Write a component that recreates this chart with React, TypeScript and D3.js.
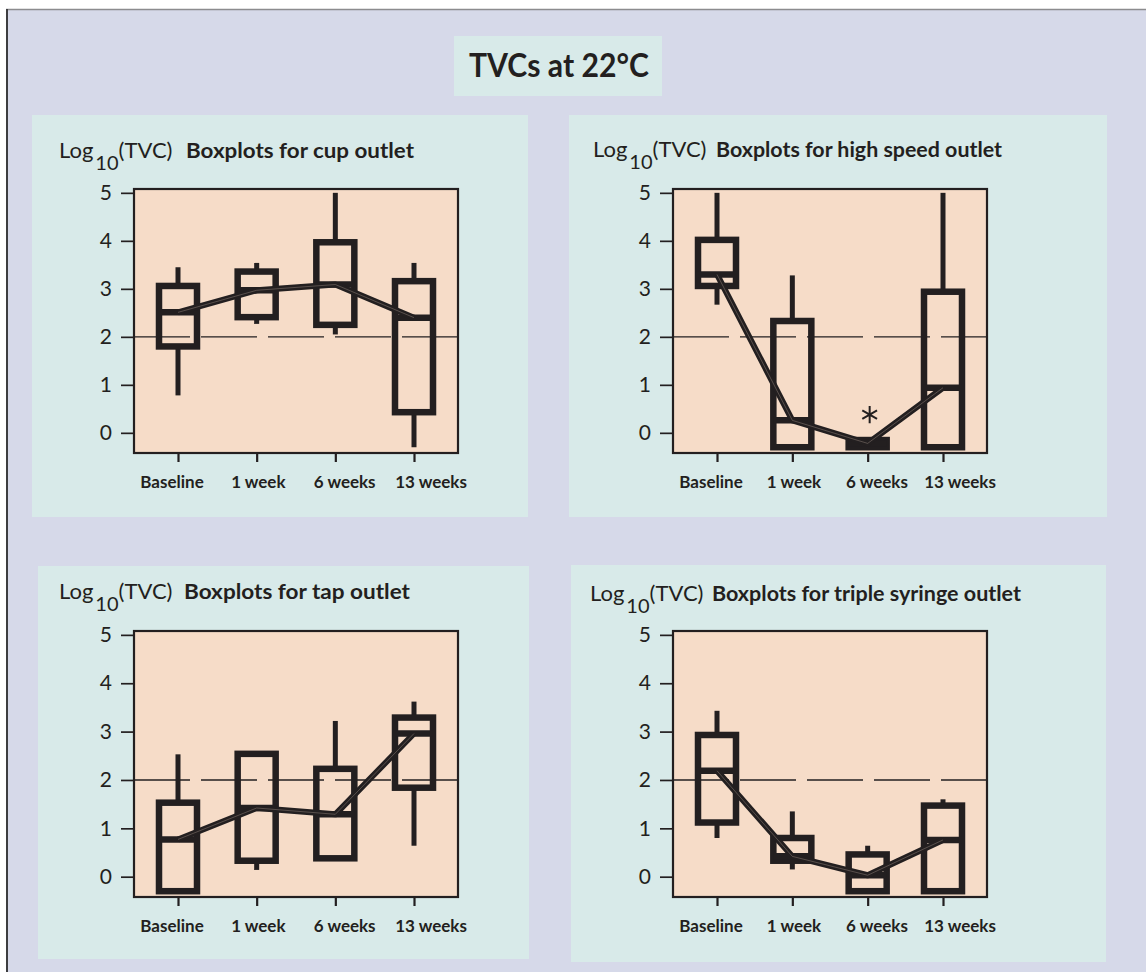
import * as d3 from "d3";
import { useEffect, useRef } from "react";

// categories and axis
const timepoints = ["Baseline", "1 week", "6 weeks", "13 weeks"];
const yTicks = [0, 1, 2, 3, 4, 5];
const yDomain = [-0.42, 5.08];
const referenceLevel = 2;
const outlets = ["cup", "high speed", "tap", "triple syringe"];

// cup outlet: whisker high, upper quartile, median, lower quartile, whisker low
const cupHigh = [3.45, 3.54, 5.0, 3.54];
const cupQ3 = [3.06, 3.36, 3.97, 3.16];
const cupMedian = [2.51, 2.97, 3.09, 2.4];
const cupQ1 = [1.8, 2.41, 2.25, 0.43];
const cupLow = [0.78, 2.27, 2.05, -0.3];

// high speed outlet
const highHigh = [5.0, 3.28, -0.15, 5.0];
const highQ3 = [4.02, 2.33, -0.15, 2.94];
const highMedian = [3.3, 0.26, -0.22, 0.94];
const highQ1 = [3.06, -0.3, -0.3, -0.3];
const highLow = [2.67, -0.3, -0.3, -0.3];
const highOutliers = [{ time: "6 weeks", value: 0.38 }];

// tap outlet
const tapHigh = [2.53, 2.54, 3.22, 3.62];
const tapQ3 = [1.53, 2.54, 2.23, 3.29];
const tapMedian = [0.77, 1.42, 1.29, 2.96];
const tapQ1 = [-0.3, 0.33, 0.38, 1.84];
const tapLow = [-0.3, 0.14, 0.38, 0.64];

// triple syringe outlet
const tripleHigh = [3.43, 1.35, 0.64, 1.6];
const tripleQ3 = [2.93, 0.8, 0.46, 1.47];
const tripleMedian = [2.19, 0.42, 0.03, 0.76];
const tripleQ1 = [1.12, 0.33, -0.3, -0.3];
const tripleLow = [0.8, 0.15, -0.3, -0.3];

const INK = "#231f20";
const FONT = "Lato, 'Open Sans', sans-serif";
const LAVENDER = "#d6d9e9";
const TEAL = "#d8eae9";
const PEACH = "#f6dcc8";

// panel geometry (backgrounds, plot frames, title positions)
const layouts = [
  { bg: [32, 115, 496, 402], plot: [134, 189, 324, 264], tx: 59, ty: 158, bx: 186, blen: 228 },
  { bg: [569, 115, 538, 402], plot: [673, 189, 314, 264], tx: 593, ty: 157, bx: 716, blen: 286 },
  { bg: [38, 566, 491, 393], plot: [134, 631, 324, 266], tx: 59, ty: 599, bx: 184, blen: 226 },
  { bg: [571, 565, 535, 397], plot: [673, 631, 314, 266], tx: 590, ty: 601, bx: 712, blen: 309 },
];

const panels = [
  { name: outlets[0], hi: cupHigh, q3: cupQ3, med: cupMedian, q1: cupQ1, lo: cupLow, out: [] },
  { name: outlets[1], hi: highHigh, q3: highQ3, med: highMedian, q1: highQ1, lo: highLow, out: highOutliers },
  { name: outlets[2], hi: tapHigh, q3: tapQ3, med: tapMedian, q1: tapQ1, lo: tapLow, out: [] },
  { name: outlets[3], hi: tripleHigh, q3: tripleQ3, med: tripleMedian, q1: tripleQ1, lo: tripleLow, out: [] },
];

function AxisLeft({ scale, x }) {
  const ref = useRef(null);
  useEffect(() => {
    const g = d3.select(ref.current);
    g.call(
      d3.axisLeft(scale).tickValues(yTicks).tickSize(13).tickPadding(9).tickFormat(d3.format("d"))
    );
    g.select(".domain").remove();
    g.selectAll("line").attr("stroke", INK).attr("stroke-width", 1.7);
    g.selectAll("text")
      .attr("fill", INK)
      .attr("font-size", 21)
      .attr("font-family", FONT);
  }, [scale]);
  return <g ref={ref} transform={`translate(${x},0)`} />;
}

function AxisBottom({ scale, y }) {
  const ref = useRef(null);
  useEffect(() => {
    const g = d3.select(ref.current);
    g.call(d3.axisBottom(scale).tickSize(9).tickFormat(() => ""));
    g.select(".domain").remove();
    g.selectAll("line").attr("stroke", INK).attr("stroke-width", 2.2);
  }, [scale]);
  return <g ref={ref} transform={`translate(0,${y})`} />;
}

function Panel({ layout, data }) {
  const [bx, by, bw, bh] = layout.bg;
  const [px, py, pw, ph] = layout.plot;
  const x = d3.scalePoint().domain(timepoints).range([px + 44, px + pw - 44]);
  const xLabel = d3.scalePoint().domain(timepoints).range([px + 38, px + pw - 27]);
  const y = d3.scaleLinear().domain(yDomain).range([py + ph, py]);
  const boxW = 38;
  const medianLine = d3
    .line()
    .x((d, i) => x(timepoints[i]))
    .y((d) => y(d));
  const star = d3.symbol(d3.symbolAsterisk, 205)();

  return (
    <g>
      <rect x={bx} y={by} width={bw} height={bh} fill={TEAL} />
      <text x={layout.tx} y={layout.ty} fill={INK} fontFamily={FONT} fontSize={22}>
        Log
        <tspan fontSize={20} dx={2} dy={12}>10</tspan>
        <tspan dy={-12}>(TVC)</tspan>
      </text>
      <text
        x={layout.bx}
        y={layout.ty}
        fill={INK}
        fontFamily={FONT}
        fontWeight="bold"
        fontSize={20.5}
        textLength={layout.blen}
        lengthAdjust="spacingAndGlyphs"
      >
        {`Boxplots for ${data.name} outlet`}
      </text>
      <rect x={px} y={py} width={pw} height={ph} fill={PEACH} />
      <line
        x1={px}
        x2={px + pw}
        y1={y(referenceLevel)}
        y2={y(referenceLevel)}
        stroke={INK}
        strokeWidth={1.4}
        strokeDasharray="56 11"
      />
      <AxisLeft scale={y} x={px} />
      <AxisBottom scale={x} y={py + ph} />
      {timepoints.map((t) => (
        <text
          key={t}
          x={xLabel(t)}
          y={py + ph + 35}
          textAnchor="middle"
          fill={INK}
          fontFamily={FONT}
          fontWeight="bold"
          fontSize={17}
        >
          {t}
        </text>
      ))}
      {timepoints.map((t, i) => {
        const cx = x(t);
        return (
          <g key={t} stroke={INK} fill="none">
            <line x1={cx} x2={cx} y1={y(data.hi[i])} y2={y(data.q3[i])} strokeWidth={5} />
            <line x1={cx} x2={cx} y1={y(data.q1[i])} y2={y(data.lo[i])} strokeWidth={5} />
            <rect
              x={cx - boxW / 2}
              y={y(data.q3[i])}
              width={boxW}
              height={y(data.q1[i]) - y(data.q3[i])}
              strokeWidth={6.5}
              strokeLinejoin="miter"
            />
            <line
              x1={cx - boxW / 2}
              x2={cx + boxW / 2}
              y1={y(data.med[i])}
              y2={y(data.med[i])}
              strokeWidth={6.5}
            />
          </g>
        );
      })}
      <path d={medianLine(data.med)} fill="none" stroke={INK} strokeWidth={6} strokeLinejoin="round" />
      <path d={medianLine(data.med)} fill="none" stroke="#9c8c82" strokeOpacity={0.55} strokeWidth={0.8} />
      {data.out.map((o) => (
        <path
          key={o.time}
          d={star}
          transform={`translate(${x(o.time) + 2},${y(o.value)})`}
          fill="none"
          stroke={INK}
          strokeWidth={2}
        />
      ))}
      <rect x={px} y={py} width={pw} height={ph} fill="none" stroke={INK} strokeWidth={2.2} />
    </g>
  );
}

export default function App() {
  return (
    <svg
      width={1146}
      height={972}
      style={{ position: "absolute", left: 0, top: 0, background: "#fff" }}
    >
      <rect x={6} y={9} width={1150} height={970} fill={LAVENDER} />
      <line x1={6} x2={1146} y1={9.5} y2={9.5} stroke="#8c8c8e" strokeWidth={1.5} />
      <line x1={7} x2={7} y1={9} y2={972} stroke="#3d3d40" strokeWidth={2} />
      <rect x={454} y={36} width={208} height={60} fill={TEAL} />
      <text
        x={559}
        y={77}
        textAnchor="middle"
        fill={INK}
        fontFamily={FONT}
        fontWeight="bold"
        fontSize={32}
        textLength={180}
        lengthAdjust="spacingAndGlyphs"
      >
        TVCs at 22°C
      </text>
      {panels.map((p, i) => (
        <Panel key={p.name} layout={layouts[i]} data={p} />
      ))}
    </svg>
  );
}
